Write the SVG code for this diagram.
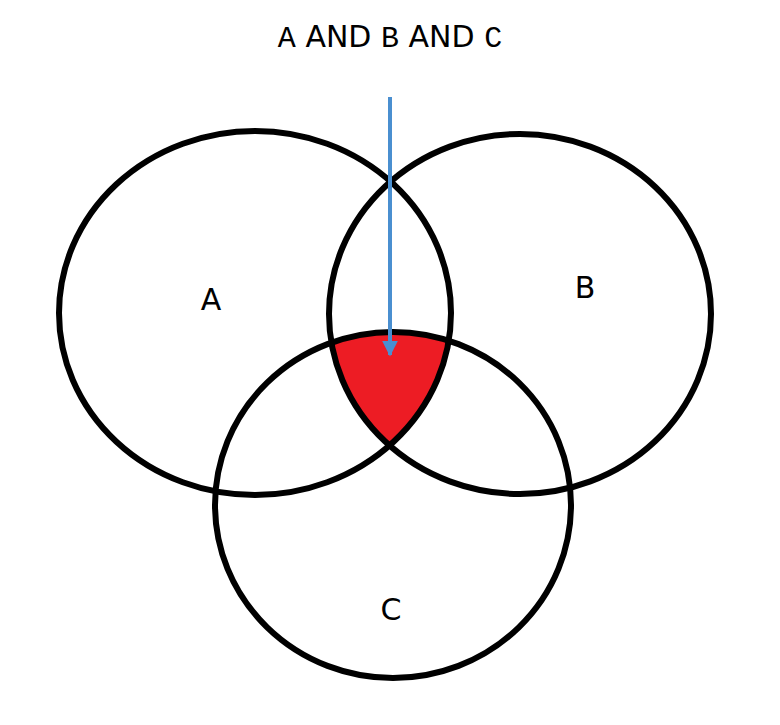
<svg xmlns="http://www.w3.org/2000/svg" width="780" height="725" viewBox="0 0 780 725">
<style>
.c{fill:none;stroke:#000;stroke-width:6}
.t{font-family:"DejaVu Sans","Liberation Sans",sans-serif;font-size:30px;fill:#000}
.m{font-family:"Liberation Mono",monospace;font-size:30px}
</style>
<defs>
<clipPath id="ca"><ellipse cx="255" cy="313" rx="196" ry="182"/></clipPath>
<clipPath id="cb"><ellipse cx="520" cy="314" rx="191" ry="180"/></clipPath>
<marker id="ar" viewBox="0 0 10 10" refX="9" refY="5" markerWidth="4" markerHeight="4" orient="auto"><path d="M0,0L10,5L0,10z" fill="#4a8fd0"/></marker>
</defs>
<rect width="780" height="725" fill="#fff"/>
<g id="intersection"><g clip-path="url(#ca)"><g clip-path="url(#cb)"><ellipse cx="393" cy="505" rx="178" ry="173" fill="#ed1c24"/></g></g></g>
<g id="A"><ellipse class="c" cx="255" cy="313" rx="196" ry="182"/><text class="t" x="211" y="310" text-anchor="middle">A</text></g>
<g id="B"><ellipse class="c" cx="520" cy="314" rx="191" ry="180"/><text class="t" x="585" y="298" text-anchor="middle">B</text></g>
<g id="C"><ellipse class="c" cx="393" cy="505" rx="178" ry="173"/><text class="t" x="391" y="620" text-anchor="middle">C</text></g>
<g id="title"><text class="t" x="390" y="47" text-anchor="middle"><tspan class="m">A</tspan> AND <tspan class="m">B</tspan> AND <tspan class="m">C</tspan></text></g>
<g id="connectors"><line x1="390" y1="97" x2="390" y2="355" stroke="#4a8fd0" stroke-width="4" marker-end="url(#ar)"/></g>
</svg>
